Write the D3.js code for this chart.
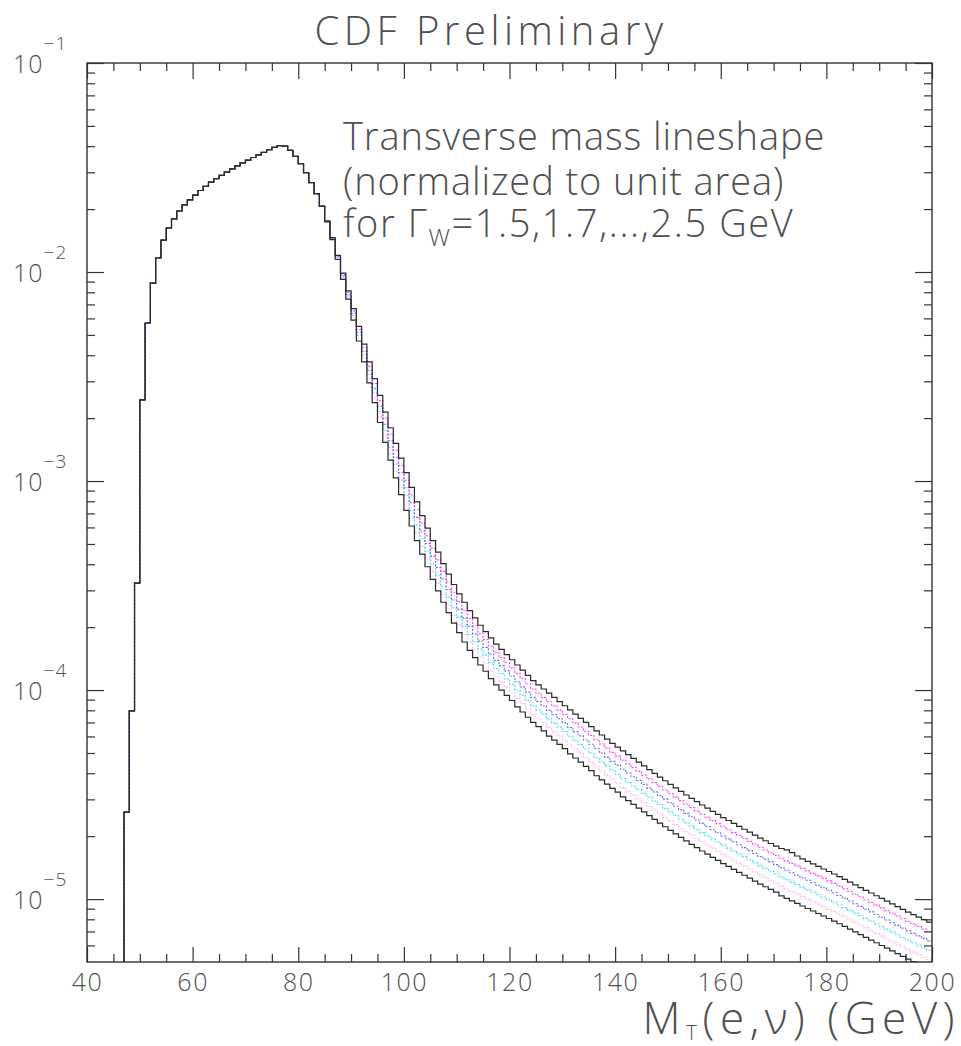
<!DOCTYPE html>
<html>
<head>
<meta charset="utf-8">
<style>
    body { margin: 0; background: #fff; }
    svg { display: block; font-family: 'Open Sans', 'DejaVu Sans', sans-serif; }
    .frame { fill: none; stroke: #333; stroke-width: 1.4; }
    .tick line { stroke: #333; stroke-width: 1.2; }
    .lbl { fill: #4f4f4f; font-weight: 300; }
</style>
</head>
<body>
<svg width="961" height="1046"></svg>

<script src="https://d3js.org/d3.v7.min.js"></script>
<script>
    // bins are 1 GeV wide, the first one starts at 47 GeV
    const firstBin = 47;
    const xDomain = [40, 200];
    const yDomain = [5e-6, 1e-1];
    const xMajor = [40, 60, 80, 100, 120, 140, 160, 180, 200];
    const yDecades = [1e-5, 1e-4, 1e-3, 1e-2, 1e-1];
    const yExponents = ["\u22125", "\u22124", "\u22123", "\u22122", "\u22121"];

    // log10(bin content). same for all widths below 85 GeV
    const sharedLog = [
        -4.584, -4.100, -3.488, -2.612, -2.244, -2.053, -1.933, -1.847, -1.789, -1.746,
        -1.708, -1.679, -1.655, -1.632, -1.610, -1.590, -1.570, -1.553, -1.537, -1.522,
        -1.507, -1.492, -1.478, -1.465, -1.452, -1.440, -1.428, -1.415, -1.403, -1.395,
        -1.398, -1.418, -1.447, -1.482, -1.525, -1.572, -1.625, -1.685
    ];

    // 85 .. 199 GeV, one list per W width
    const tail25 = [
        -1.755, -1.835, -1.920, -2.005, -2.090, -2.175, -2.260, -2.345, -2.430, -2.510,
        -2.590, -2.670, -2.745, -2.820, -2.890, -2.960, -3.030, -3.100, -3.165, -3.225,
        -3.285, -3.340, -3.395, -3.445, -3.495, -3.540, -3.580, -3.620, -3.655, -3.690,
        -3.720, -3.750, -3.780, -3.805, -3.830, -3.855, -3.880, -3.905, -3.930, -3.955,
        -3.975, -3.995, -4.015, -4.035, -4.055, -4.075, -4.095, -4.115, -4.135, -4.155,
        -4.175, -4.195, -4.215, -4.235, -4.255, -4.273, -4.291, -4.309, -4.327, -4.345,
        -4.363, -4.381, -4.399, -4.417, -4.434, -4.451, -4.468, -4.485, -4.502, -4.518,
        -4.534, -4.550, -4.565, -4.580, -4.595, -4.610, -4.624, -4.638, -4.652, -4.666,
        -4.680, -4.694, -4.708, -4.721, -4.734, -4.747, -4.758, -4.765, -4.778, -4.794,
        -4.808, -4.820, -4.832, -4.844, -4.856, -4.868, -4.880, -4.893, -4.906, -4.919,
        -4.932, -4.945, -4.958, -4.971, -4.984, -4.997, -5.010, -5.023, -5.036, -5.049,
        -5.062, -5.074, -5.086, -5.098, -5.110
    ];
    const tail23 = [
        -1.756, -1.837, -1.924, -2.011, -2.098, -2.186, -2.274, -2.362, -2.450, -2.533,
        -2.616, -2.699, -2.776, -2.853, -2.925, -2.996, -3.067, -3.137, -3.202, -3.262,
        -3.322, -3.377, -3.432, -3.482, -3.532, -3.577, -3.618, -3.658, -3.693, -3.728,
        -3.758, -3.789, -3.819, -3.844, -3.869, -3.894, -3.920, -3.945, -3.970, -3.995,
        -4.015, -4.035, -4.056, -4.076, -4.096, -4.116, -4.137, -4.157, -4.177, -4.197,
        -4.217, -4.238, -4.258, -4.278, -4.298, -4.316, -4.335, -4.353, -4.371, -4.389,
        -4.407, -4.425, -4.443, -4.461, -4.478, -4.495, -4.512, -4.529, -4.546, -4.562,
        -4.578, -4.594, -4.609, -4.624, -4.639, -4.654, -4.668, -4.682, -4.696, -4.710,
        -4.724, -4.738, -4.752, -4.765, -4.778, -4.791, -4.805, -4.817, -4.829, -4.841,
        -4.853, -4.865, -4.877, -4.889, -4.901, -4.913, -4.925, -4.938, -4.951, -4.964,
        -4.977, -4.990, -5.003, -5.016, -5.029, -5.042, -5.055, -5.068, -5.081, -5.094,
        -5.107, -5.119, -5.131, -5.143, -5.155
    ];
    const tail21 = [
        -1.757, -1.839, -1.928, -2.017, -2.106, -2.197, -2.288, -2.379, -2.470, -2.556,
        -2.642, -2.728, -2.807, -2.886, -2.960, -3.032, -3.104, -3.174, -3.239, -3.299,
        -3.359, -3.414, -3.469, -3.519, -3.569, -3.614, -3.656, -3.696, -3.731, -3.766,
        -3.796, -3.828, -3.858, -3.883, -3.908, -3.933, -3.960, -3.985, -4.010, -4.035,
        -4.055, -4.075, -4.097, -4.117, -4.137, -4.157, -4.179, -4.199, -4.219, -4.239,
        -4.259, -4.281, -4.301, -4.321, -4.341, -4.359, -4.379, -4.397, -4.415, -4.433,
        -4.451, -4.469, -4.487, -4.505, -4.522, -4.539, -4.556, -4.573, -4.590, -4.606,
        -4.622, -4.638, -4.653, -4.668, -4.683, -4.698, -4.712, -4.726, -4.740, -4.754,
        -4.768, -4.782, -4.796, -4.809, -4.822, -4.835, -4.850, -4.862, -4.874, -4.886,
        -4.898, -4.910, -4.922, -4.934, -4.946, -4.958, -4.970, -4.983, -4.996, -5.009,
        -5.022, -5.035, -5.048, -5.061, -5.074, -5.087, -5.100, -5.113, -5.126, -5.139,
        -5.152, -5.164, -5.176, -5.188, -5.200
    ];
    const tail19 = [
        -1.758, -1.841, -1.932, -2.023, -2.114, -2.208, -2.302, -2.396, -2.490, -2.579,
        -2.668, -2.757, -2.838, -2.919, -2.995, -3.068, -3.141, -3.211, -3.276, -3.336,
        -3.396, -3.451, -3.506, -3.556, -3.606, -3.651, -3.694, -3.734, -3.769, -3.804,
        -3.834, -3.867, -3.897, -3.922, -3.947, -3.972, -4.000, -4.025, -4.050, -4.075,
        -4.095, -4.115, -4.138, -4.158, -4.178, -4.198, -4.221, -4.241, -4.261, -4.281,
        -4.301, -4.324, -4.344, -4.364, -4.384, -4.402, -4.423, -4.441, -4.459, -4.477,
        -4.495, -4.513, -4.531, -4.549, -4.566, -4.583, -4.600, -4.617, -4.634, -4.650,
        -4.666, -4.682, -4.697, -4.712, -4.727, -4.742, -4.756, -4.770, -4.784, -4.798,
        -4.812, -4.826, -4.840, -4.853, -4.866, -4.879, -4.895, -4.907, -4.919, -4.931,
        -4.943, -4.955, -4.967, -4.979, -4.991, -5.003, -5.015, -5.028, -5.041, -5.054,
        -5.067, -5.080, -5.093, -5.106, -5.119, -5.132, -5.145, -5.158, -5.171, -5.184,
        -5.197, -5.209, -5.221, -5.233, -5.245
    ];
    const tail17 = [
        -1.759, -1.843, -1.936, -2.029, -2.122, -2.219, -2.316, -2.413, -2.510, -2.602,
        -2.694, -2.786, -2.869, -2.952, -3.030, -3.104, -3.178, -3.248, -3.313, -3.373,
        -3.433, -3.488, -3.543, -3.593, -3.643, -3.688, -3.732, -3.772, -3.807, -3.842,
        -3.872, -3.906, -3.936, -3.961, -3.986, -4.011, -4.040, -4.065, -4.090, -4.115,
        -4.135, -4.155, -4.179, -4.199, -4.219, -4.239, -4.263, -4.283, -4.303, -4.323,
        -4.343, -4.367, -4.387, -4.407, -4.427, -4.445, -4.467, -4.485, -4.503, -4.521,
        -4.539, -4.557, -4.575, -4.593, -4.610, -4.627, -4.644, -4.661, -4.678, -4.694,
        -4.710, -4.726, -4.741, -4.756, -4.771, -4.786, -4.800, -4.814, -4.828, -4.842,
        -4.856, -4.870, -4.884, -4.897, -4.910, -4.923, -4.940, -4.952, -4.964, -4.976,
        -4.988, -5.000, -5.012, -5.024, -5.036, -5.048, -5.060, -5.073, -5.086, -5.099,
        -5.112, -5.125, -5.138, -5.151, -5.164, -5.177, -5.190, -5.203, -5.216, -5.229,
        -5.242, -5.254, -5.266, -5.278, -5.290
    ];
    const tail15 = [
        -1.760, -1.845, -1.940, -2.035, -2.130, -2.230, -2.330, -2.430, -2.530, -2.625,
        -2.720, -2.815, -2.900, -2.985, -3.065, -3.140, -3.215, -3.285, -3.350, -3.410,
        -3.470, -3.525, -3.580, -3.630, -3.680, -3.725, -3.770, -3.810, -3.845, -3.880,
        -3.910, -3.945, -3.975, -4.000, -4.025, -4.050, -4.080, -4.105, -4.130, -4.155,
        -4.175, -4.195, -4.220, -4.240, -4.260, -4.280, -4.305, -4.325, -4.345, -4.365,
        -4.385, -4.410, -4.430, -4.450, -4.470, -4.488, -4.511, -4.529, -4.547, -4.565,
        -4.583, -4.601, -4.619, -4.637, -4.654, -4.671, -4.688, -4.705, -4.722, -4.738,
        -4.754, -4.770, -4.785, -4.800, -4.815, -4.830, -4.844, -4.858, -4.872, -4.886,
        -4.900, -4.914, -4.928, -4.941, -4.954, -4.967, -4.985, -4.997, -5.009, -5.021,
        -5.033, -5.045, -5.057, -5.069, -5.081, -5.093, -5.105, -5.118, -5.131, -5.144,
        -5.157, -5.170, -5.183, -5.196, -5.209, -5.222, -5.235, -5.248, -5.261, -5.274,
        -5.287, -5.299, -5.311, -5.323, -5.335
    ];

    // inner widths first so the two black outer curves sit on top
    const curves = [
        { tail: tail17, color: "#ffb0f4", dash: "2,1.5", width: 1.1 },
        { tail: tail19, color: "#3fd8ff", dash: "2,1.5", width: 1.1 },
        { tail: tail21, color: "#5b6cff", dash: "2,1.5", width: 1.1 },
        { tail: tail23, color: "#ff3cff", dash: "2,1.5", width: 1.1 },
        { tail: tail15, color: "#2a2a2a", dash: null, width: 1.2 },
        { tail: tail25, color: "#2a2a2a", dash: null, width: 1.2 }
    ];

    let svg = d3.select("svg");
    let pLeft = 87, pRight = 932, pTop = 63, pBottom = 962;

    let x = d3.scaleLinear().domain(xDomain).range([pLeft, pRight]);
    let y = d3.scaleLog().domain(yDomain).range([pBottom, pTop]);

    let xMinor = d3.range(45, 200, 5).filter(d => !xMajor.includes(d));
    let yMinor = [];
    [1e-6, 1e-5, 1e-4, 1e-3, 1e-2].forEach(p => {
        for (let k = 2; k <= 9; k++) {
            let v = k * p;
            if (v >= yDomain[0] && v <= yDomain[1]) yMinor.push(v);
        }
    });

    svg.append("clipPath").attr("id", "plotclip")
        .append("rect")
        .attr("x", pLeft).attr("y", pTop)
        .attr("width", pRight - pLeft).attr("height", pBottom - pTop);

    // histograms
    let line = d3.line()
        .x(d => x(d[0]))
        .y(d => y(d[1]))
        .curve(d3.curveStepAfter);

    curves.forEach(c => {
        let logs = sharedLog.concat(c.tail);
        let pts = [[firstBin, yDomain[0]]];
        logs.forEach((v, i) => pts.push([firstBin + i, Math.pow(10, v)]));
        pts.push([firstBin + logs.length, Math.pow(10, logs[logs.length - 1])]);

        svg.append("path")
            .attr("d", line(pts))
            .attr("clip-path", "url(#plotclip)")
            .style("fill", "none")
            .style("stroke", c.color)
            .style("stroke-width", c.width)
            .style("stroke-dasharray", c.dash);
    });

    // ticks on all four sides, pointing inwards
    function drawAxis(gen, tx, ty) {
        return svg.append("g")
            .attr("transform", `translate(${tx},${ty})`)
            .call(gen)
            .call(g => g.select(".domain").remove());
    }

    let xLabels = drawAxis(d3.axisBottom(x).tickValues(xMajor).tickSize(-15).tickPadding(11).tickFormat(d3.format("d")), 0, pBottom);
    xLabels.attr("font-family", null).attr("font-size", null);
    xLabels.selectAll("text")
        .attr("class", "lbl")
        .attr("font-size", 25)
        .attr("letter-spacing", 1.5);
    drawAxis(d3.axisBottom(x).tickValues(xMinor).tickSize(-8).tickFormat(""), 0, pBottom);
    drawAxis(d3.axisTop(x).tickValues(xMajor).tickSize(-16).tickFormat(""), 0, pTop);
    drawAxis(d3.axisTop(x).tickValues(xMinor).tickSize(-8).tickFormat(""), 0, pTop);

    drawAxis(d3.axisLeft(y).tickValues(yDecades).tickSize(-17).tickFormat(""), pLeft, 0);
    drawAxis(d3.axisLeft(y).tickValues(yMinor).tickSize(-8).tickFormat(""), pLeft, 0);
    drawAxis(d3.axisRight(y).tickValues(yDecades).tickSize(-17).tickFormat(""), pRight, 0);
    drawAxis(d3.axisRight(y).tickValues(yMinor).tickSize(-8).tickFormat(""), pRight, 0);

    svg.append("rect")
        .attr("class", "frame")
        .attr("x", pLeft).attr("y", pTop)
        .attr("width", pRight - pLeft).attr("height", pBottom - pTop);

    // y labels 10^-n
    yDecades.forEach((v, i) => {
        let t = svg.append("text")
            .attr("class", "lbl")
            .attr("x", 13)
            .attr("y", y(v) + 10)
            .attr("font-size", 25)
            .attr("letter-spacing", 1);
        t.append("tspan").text("10");
        t.append("tspan")
            .attr("dy", -23)
            .attr("font-size", 19)
            .text(yExponents[i]);
    });

    // title
    svg.append("text")
        .attr("class", "lbl")
        .attr("x", 491)
        .attr("y", 45)
        .attr("text-anchor", "middle")
        .attr("font-size", 40)
        .attr("letter-spacing", 4.5)
        .text("CDF Preliminary");

    // annotation
    let note = svg.append("g").attr("class", "lbl").attr("font-size", 38).attr("letter-spacing", 0.9);
    note.append("text").attr("x", 343).attr("y", 150).text("Transverse mass lineshape");
    note.append("text").attr("x", 343).attr("y", 195).text("(normalized to unit area)");
    let l3 = note.append("text").attr("x", 343).attr("y", 237).attr("letter-spacing", 1.6);
    l3.append("tspan").text("for \u0393");
    l3.append("tspan").attr("dy", 9).attr("font-size", 24).text("W");
    l3.append("tspan").attr("dy", -9).text("=1.5,1.7,...,2.5 GeV");

    // x axis title
    let xt = svg.append("text")
        .attr("class", "lbl")
        .attr("x", 960)
        .attr("y", 1034)
        .attr("text-anchor", "end")
        .attr("font-size", 44)
        .attr("letter-spacing", 5.5);
    xt.append("tspan").text("M");
    xt.append("tspan").attr("dy", 6).attr("font-size", 21).text("T");
    xt.append("tspan").attr("dy", -6).text("(e,\u03bd) (GeV)");
</script>
</body>
</html>
